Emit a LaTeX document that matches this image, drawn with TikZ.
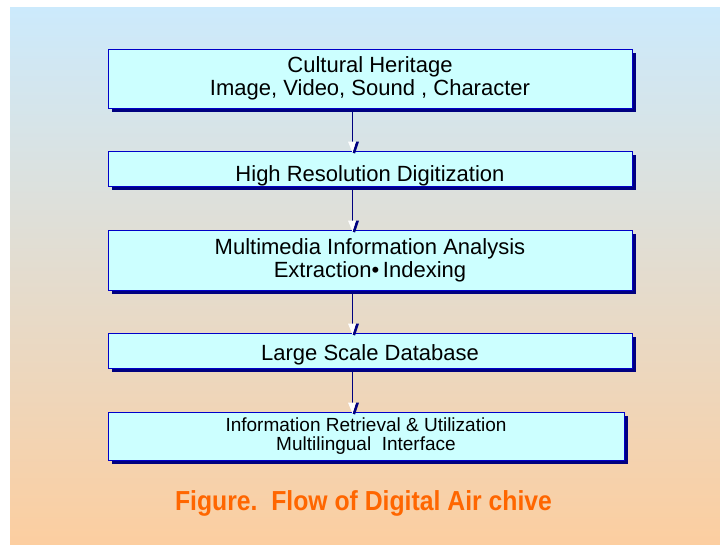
\documentclass[tikz,border=0pt]{standalone}
\usepackage{fontspec}
\setmainfont{Liberation Sans}
\newfontfamily\boxfont{Liberation Sans}
\newfontfamily\capfont{Liberation Sans Bold}[FakeStretch=0.9]
\usetikzlibrary{shadows,calc}
\definecolor{bgtop}{RGB}{204,234,252}
\definecolor{bgmid}{RGB}{224,222,218}
\definecolor{bgbot}{RGB}{252,206,160}
\definecolor{boxfill}{RGB}{204,255,255}
\definecolor{boxline}{RGB}{0,0,200}
\definecolor{navy}{RGB}{0,0,128}
\definecolor{capcol}{RGB}{255,102,0}
\tikzset{
  stepbox/.style={draw=boxline, line width=0.9pt, fill=boxfill, align=center,
    inner sep=0pt, font=\boxfont\fontsize{22}{23}\selectfont,
    drop shadow={shadow xshift=4pt, shadow yshift=-4pt, fill=navy, opacity=1}},
  conn/.style={draw=navy, line width=1.1pt},
  tipshadow/.style={fill=navy},
  tipwhite/.style={fill=white},
  captext/.style={text=capcol, font=\capfont\fontsize{27.5}{29}\selectfont, anchor=base}
}
\begin{document}
\begin{tikzpicture}[x=1pt,y=-1pt]
\fill[white] (0,0) rectangle (720,545);
\useasboundingbox (0,0) rectangle (720,545);
\shade[top color=bgtop, middle color=bgmid, bottom color=bgbot] (10,8) rectangle (720,545);
\coordinate (ax) at (352.5,0);
\node[stepbox, minimum width=524, minimum height=59] (b1) at (370,78.5) {Cultural Heritage\\Image, Video, Sound , Character};
\node[stepbox, minimum width=524, minimum height=35, text height=25.6pt, text depth=0pt] (b2) at (370,168.5) {High Resolution Digitization};
\node[stepbox, minimum width=524, minimum height=60] (b3) at (370,260) {Multimedia Information Analysis\\Extraction\textbullet\,Indexing};
\node[stepbox, minimum width=524, minimum height=35, text height=19pt, text depth=0pt] (b4) at (370,350.5) {Large Scale Database};
\node[stepbox, minimum width=516, minimum height=48, font=\boxfont\fontsize{19}{19.5}\selectfont] (b5) at (366,436) {Information Retrieval \& Utilization\\Multilingual\ \ Interface};
\foreach \a/\b in {b1/b2,b2/b3,b3/b4,b4/b5}{
  \draw[conn] ($(\a.south -| ax)+(0,4)$) -- ($(\b.north -| ax)+(0,-8)$);
  \fill[tipshadow] ($(\b.north -| ax)+(3.5,-9)$) -- ($(\b.north -| ax)+(6.5,-9)$) -- ($(\b.north -| ax)+(2.5,3)$) -- ($(\b.north -| ax)+(0,2)$) -- cycle;
  \fill[tipwhite] ($(\b.north -| ax)+(-4.5,-9)$) -- ($(\b.north -| ax)+(3.5,-9)$) -- ($(\b.north -| ax)+(0,2)$) -- cycle;
}
\node[captext] (cap) at (363.5,510) {Figure.\ \ Flow of Digital Air chive};
\end{tikzpicture}
\end{document}
